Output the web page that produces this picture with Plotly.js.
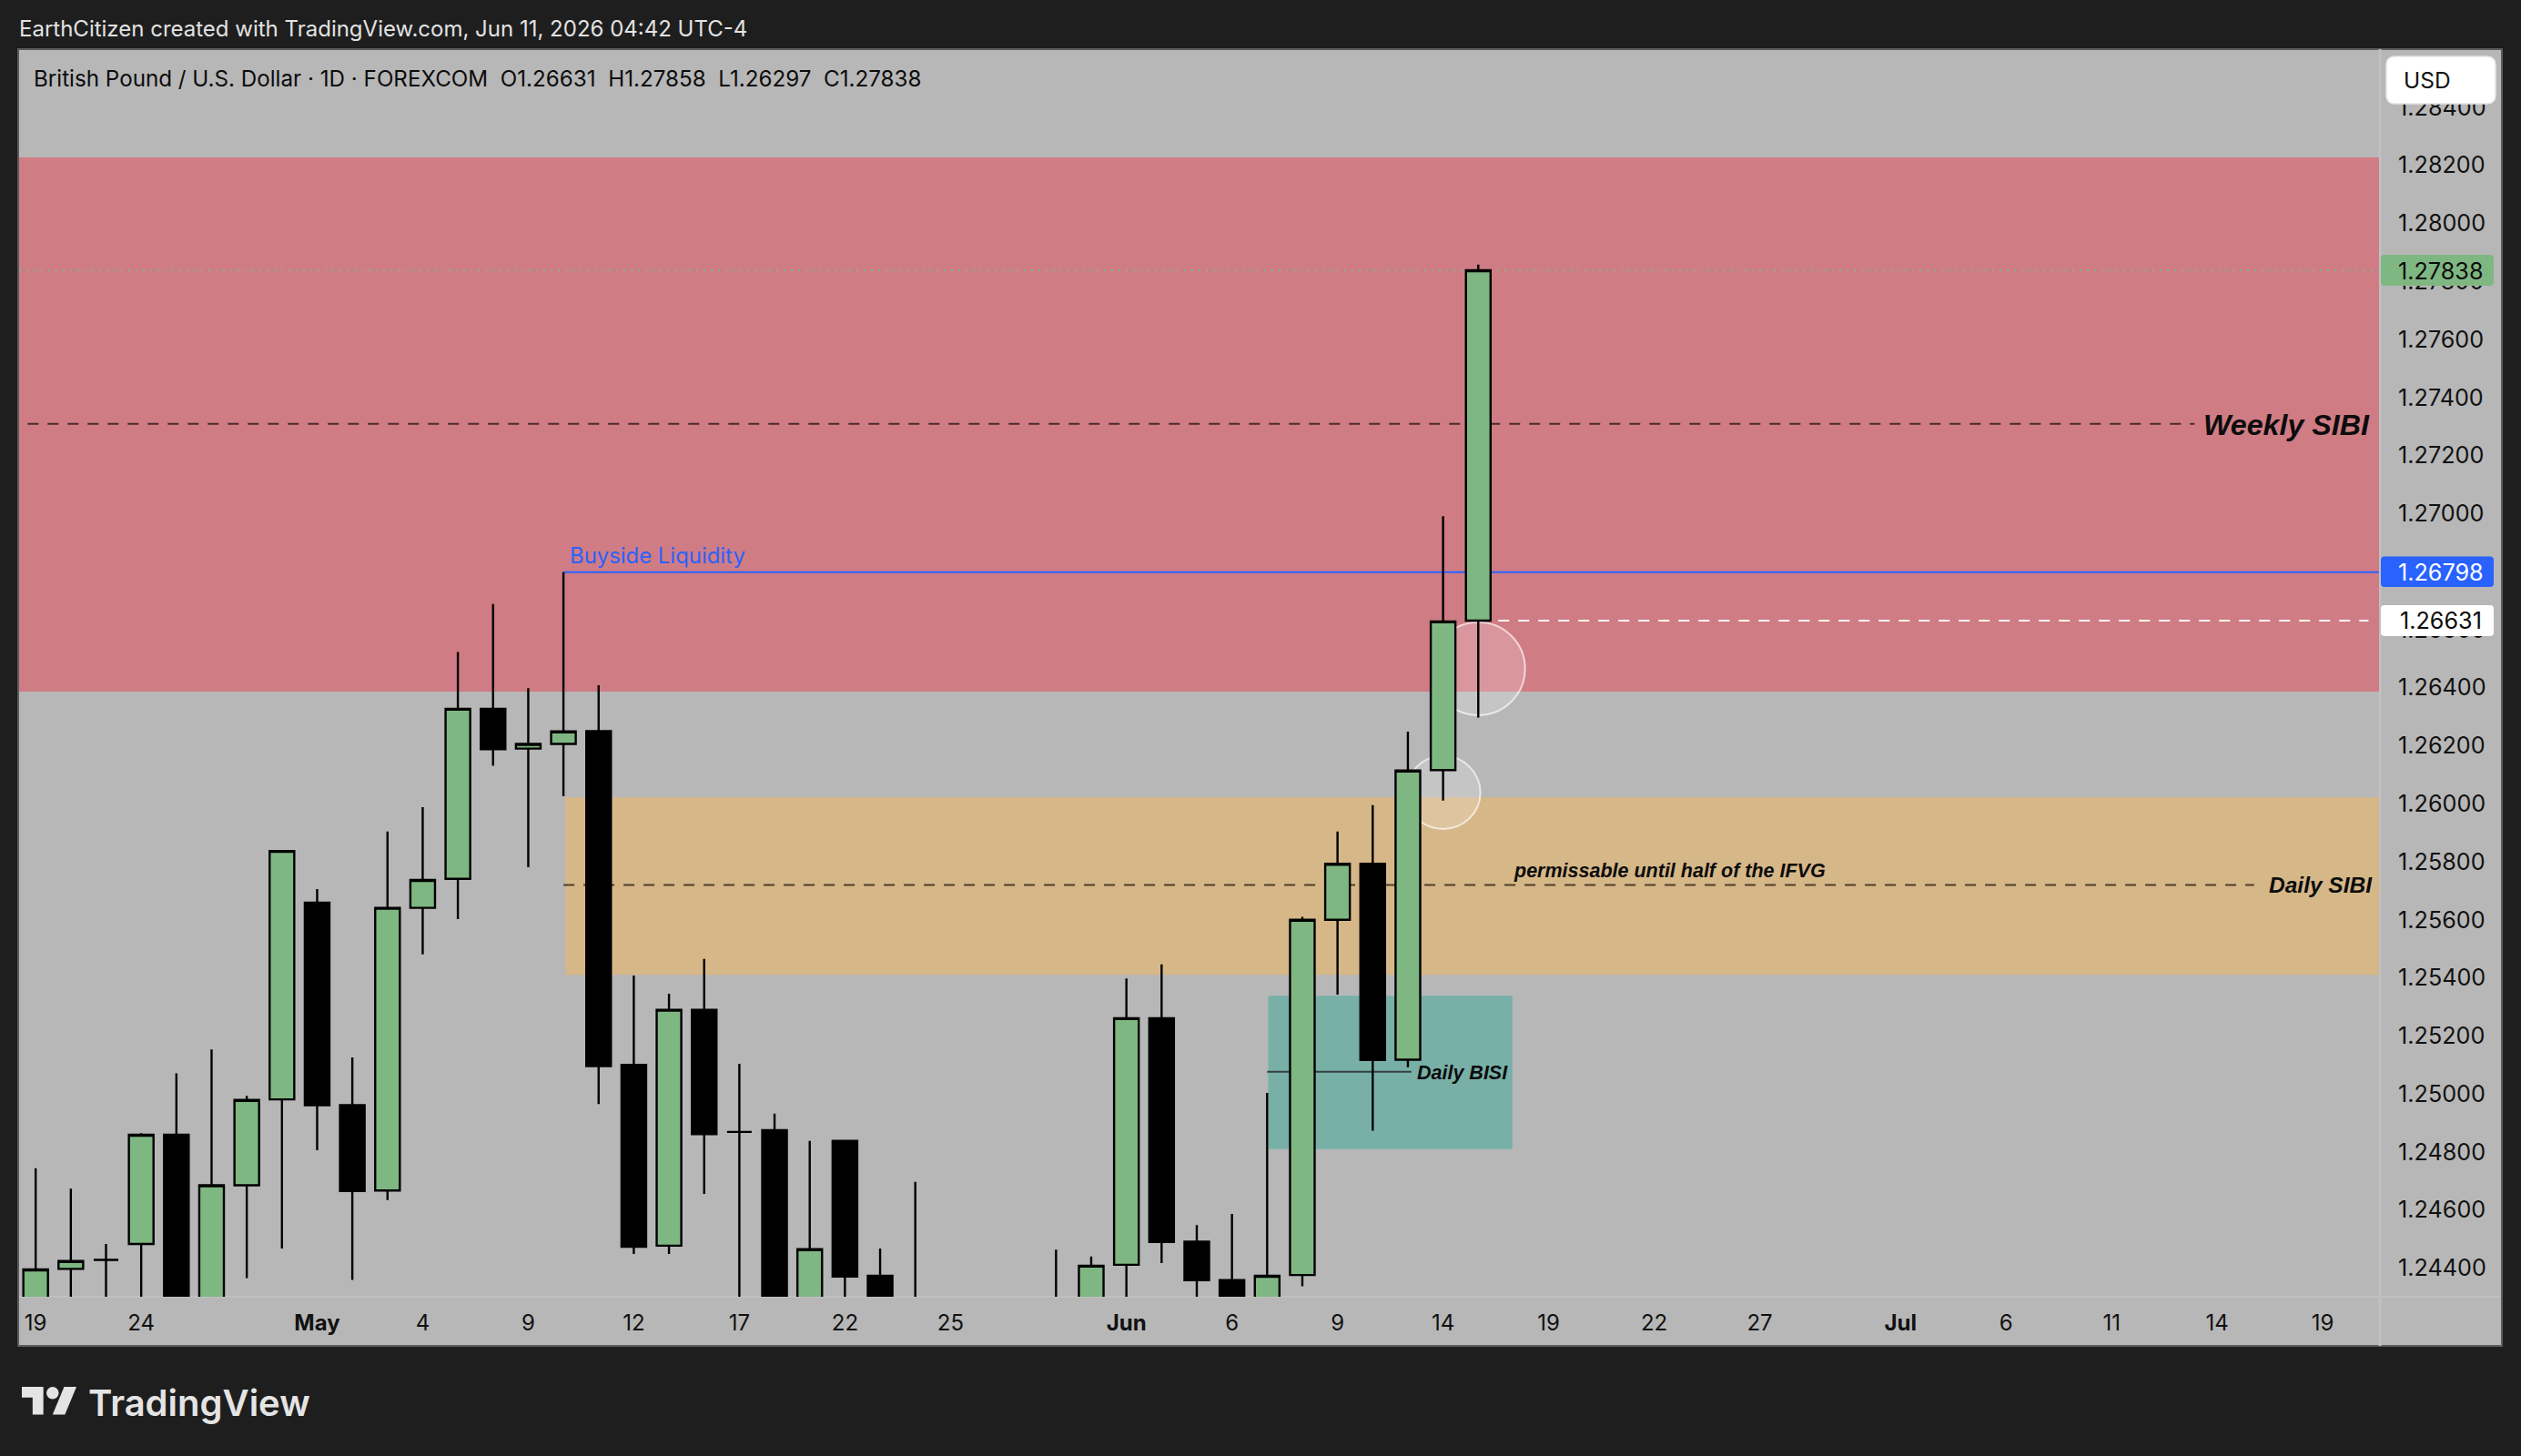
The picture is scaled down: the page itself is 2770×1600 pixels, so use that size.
<!DOCTYPE html>
<html>
<head>
<meta charset="utf-8">
<script src="https://cdn.plot.ly/plotly-3.0.1.min.js"></script>
<style>
  body { margin: 0; background: #1e1e1e; }
  #chart { width: 2770px; height: 1600px; }
</style>
</head>
<body>
<div id="chart"></div>
<script>
// bar index on the time scale (tradingview packs the days evenly)
const bars = [0,1,2,3,4,5,6,7,8,9,10,11,12,13,14,15,16,17,18,19,20,
  21,22,23,24,25,26,27,28,29,30,31,32,33,34,35,36,37,38,39,40,41];
// anything under 1.2430 is off the visible scale, so those are guesses
const opens = [1.2425,1.24397,1.24428,1.24483,1.24859,1.2422,1.24685,1.24981,1.25659,1.24961,1.24667,
  1.25641,1.25741,1.26327,1.2619,1.26206,1.2625,1.251,1.24477,1.2529,1.24869,
  1.24875,1.2422,1.24838,1.24373,1.2425,1.2418,1.2412,1.2416,1.2424,1.2422,
  1.24411,1.25261,1.24491,1.24358,1.2421,1.24376,1.256,1.25793,1.25118,1.26116,1.26631];
const highs = [1.24744,1.24673,1.24483,1.24865,1.25071,1.25153,1.24993,1.2584,1.25706,1.25126,1.25904,
  1.25988,1.26523,1.26688,1.26398,1.26798,1.26408,1.25408,1.25345,1.25465,1.25104,
  1.24932,1.24838,1.24838,1.24467,1.24697,1.2426,1.2424,1.2427,1.24463,1.2444,
  1.25398,1.25446,1.24548,1.24586,1.25003,1.2561,1.25904,1.25995,1.26248,1.26991,1.27858];
const lows = [1.2415,1.2418,1.2419,1.2416,1.2412,1.2413,1.24365,1.24467,1.24806,1.24359,1.24634,
  1.25481,1.25602,1.26131,1.25781,1.26026,1.24965,1.24448,1.24448,1.24655,1.2416,
  1.2414,1.2412,1.2415,1.2413,1.2414,1.2409,1.2405,1.2411,1.2416,1.2414,
  1.2418,1.24417,1.2421,1.2416,1.2415,1.24337,1.25342,1.24873,1.25092,1.26011,1.26297];
const closes = [1.24395,1.24424,1.24428,1.24859,1.2422,1.24685,1.24979,1.25837,1.24961,1.24665,1.25641,
  1.25737,1.26327,1.26188,1.26206,1.26249,1.25096,1.24473,1.2529,1.24861,1.24869,
  1.2421,1.24465,1.24371,1.2418,1.2418,1.2412,1.2416,1.2424,1.2422,1.24408,
  1.25261,1.2449,1.24358,1.2422,1.24373,1.256,1.25793,1.25117,1.26114,1.26628,1.27838];

const timeTicks = [0,3,8,11,14,17,20,23,26,31,34,37,40,43,46,49,53,56,59,62,65];
const timeLabels = ['19','24','<b>May</b>','4','9','12','17','22','25','<b>Jun</b>','6','9','14',
  '19','22','27','<b>Jul</b>','6','11','14','19'];
const priceTicks = [1.244,1.246,1.248,1.25,1.252,1.254,1.256,1.258,1.26,1.262,1.264,1.266,
  1.268,1.27,1.272,1.274,1.276,1.278,1.28,1.282,1.284];

const W = 2770, H = 1600, L = 21, R = 156, T = 54, B = 175;
const UI = 'Inter, "Liberation Sans", sans-serif';
const NOTE = '"Liberation Sans", Arial, sans-serif';
const BG = '#b7b7b7', DARK = '#1e1e1e', GREEN = '#7fb782', BLUE = '#2962ff';

// pixel position on the page -> paper fraction
const px = v => (v - L) / (W - L - R);
const py = v => 1 - (v - T) / (H - T - B);

function roundRect(x0, y0, x1, y1, r, fill, line) {
  const p = (x, y) => px(x) + ',' + py(y);
  return {
    type: 'path', xref: 'paper', yref: 'paper', layer: 'above', fillcolor: fill,
    line: line || { width: 0 },
    path: 'M' + p(x0 + r, y0) + ' L' + p(x1 - r, y0) + ' Q' + p(x1, y0) + ' ' + p(x1, y0 + r) +
      ' L' + p(x1, y1 - r) + ' Q' + p(x1, y1) + ' ' + p(x1 - r, y1) +
      ' L' + p(x0 + r, y1) + ' Q' + p(x0, y1) + ' ' + p(x0, y1 - r) +
      ' L' + p(x0, y0 + r) + ' Q' + p(x0, y0) + ' ' + p(x0 + r, y0) + ' Z'
  };
}

function zone(x0, x1, y0, y1, fill) {
  return { type: 'rect', xref: 'x', yref: 'y', layer: 'below', x0, x1, y0, y1, fillcolor: fill, line: { width: 0 } };
}
function level(x0, x1, y, color, width, dash) {
  return { type: 'line', xref: 'x', yref: 'y', layer: 'below', x0, x1, y0: y, y1: y, line: { color, width, dash } };
}
function ring(xc, xr, y0, y1) {
  return {
    type: 'circle', xref: 'x', yref: 'y', layer: 'below', x0: xc - xr, x1: xc + xr, y0, y1,
    fillcolor: 'rgba(255,255,255,0.2)', line: { color: 'rgba(255,255,255,0.65)', width: 2 }
  };
}
function logoPoly(pts) {
  // logo drawn on a 36 x 18 grid, placed at 24,1524
  const d = pts.map((q, i) => (i ? 'L' : 'M') + px(24 + q[0] * 1.69) + ',' + py(1524 + q[1] * 1.69)).join(' ') + ' Z';
  return { type: 'path', xref: 'paper', yref: 'paper', layer: 'above', path: d, fillcolor: '#e4e4e4', line: { width: 0 } };
}
function pageText(x, y, text, size, color, anchor, extra) {
  return Object.assign({
    xref: 'paper', yref: 'paper', x: px(x), y: py(y), text, showarrow: false, xanchor: anchor || 'left', yanchor: 'middle',
    font: { family: UI, size, color }
  }, extra || {});
}
function chartText(x, y, text, size, color, anchor) {
  return {
    xref: 'x', yref: 'y', x, y, text, showarrow: false, xanchor: anchor || 'left', yanchor: 'middle',
    font: { family: NOTE, size, color, style: 'italic', weight: 'bold' }
  };
}

const shapes = [
  // frame and axis panels
  { type: 'rect', xref: 'paper', yref: 'paper', layer: 'below', x0: px(20), x1: px(2749), y0: py(1479), y1: py(54),
    fillcolor: BG, line: { color: '#5c5c5c', width: 2 } },
  { type: 'line', xref: 'paper', yref: 'paper', layer: 'below', x0: px(2615), x1: px(2615), y0: py(1479), y1: py(54),
    line: { color: '#c0c0c0', width: 3 } },
  { type: 'line', xref: 'paper', yref: 'paper', layer: 'below', x0: px(21), x1: px(2748), y0: py(1425), y1: py(1425),
    line: { color: '#c0c0c0', width: 2 } },
  // zones
  zone(-0.47, 66.6, 1.26386, 1.28227, '#d07c84'),
  zone(15.05, 66.6, 1.2541, 1.26022, '#d6b788'),
  zone(35.03, 41.97, 1.2481, 1.25338, '#78b0a8'),
  // levels
  level(-0.23, 61.36, 1.27309, '#4a2a2e', 2, '12px,10px'),
  level(15, 63.05, 1.2572, '#4d3f28', 2, '12px,10px'),
  level(35, 39.1, 1.25076, '#33403e', 2, 'solid'),
  level(15, 66.6, 1.26798, BLUE, 2, 'solid'),
  level(41, 66.3, 1.26631, '#ffffff', 2, '12px,10px'),
  level(-0.47, 66.6, 1.27838, GREEN, 2, '2px,6px'),
  // wick rejection circles
  ring(41, 1.33, 1.26305, 1.26625),
  ring(40, 1.06, 1.25913, 1.26164),
  // price tags and currency button
  roundRect(2622, 62, 2742, 114, 10, '#ffffff', { color: '#e6e6e6', width: 1.5 }),
  roundRect(2616, 280, 2740, 314, 4, GREEN),
  roundRect(2616, 611.5, 2740, 645, 4, BLUE),
  roundRect(2616, 665, 2740, 699, 4, '#ffffff'),
  // logo
  logoPoly([[0, 0], [14, 0], [14, 18], [7, 18], [7, 7], [0, 7]]),
  logoPoly([[27.5, 0], [35.5, 0], [28, 18], [20, 18]]),
  { type: 'circle', xref: 'paper', yref: 'paper', layer: 'above', fillcolor: '#e4e4e4', line: { width: 0 },
    x0: px(24 + 16 * 1.69), x1: px(24 + 24 * 1.69), y0: py(1524 + 8 * 1.69), y1: py(1524) }
];

const annotations = [
  pageText(19, 32, 'EarthCitizen created with TradingView.com, Jun 11, 2026 04:42 UTC-4', 24, '#e2e2e2'),
  pageText(35, 86, 'British Pound / U.S. Dollar · 1D · FOREXCOM&nbsp;&nbsp;O1.26631&nbsp;&nbsp;H1.27858&nbsp;&nbsp;L1.26297&nbsp;&nbsp;C1.27838', 24.2, '#0c0c0c'),
  pageText(2639, 88, 'USD', 24.5, '#111111'),
  pageText(2681.5, 298, '1.27838', 25.2, '#0c0c0c', 'center'),
  pageText(2681.5, 629, '1.26798', 25.2, '#ffffff', 'center'),
  pageText(2681.5, 682, '1.26631', 25.2, '#0c0c0c', 'center'),
  pageText(95, 1541, 'TradingView', 40, '#e4e4e4', 'left', { font: { family: UI, size: 40, color: '#e4e4e4', weight: 600 } }),
  {
    xref: 'x', yref: 'y', x: 15.13, y: 1.26855, text: 'Buyside Liquidity', showarrow: false, xanchor: 'left', yanchor: 'middle',
    font: { family: UI, size: 23.9, color: BLUE }
  },
  chartText(61.56, 1.27306, 'Weekly SIBI', 32.2, '#0c0c0c'),
  chartText(63.42, 1.2572, 'Daily SIBI', 24.5, '#0c0c0c'),
  chartText(41.96, 1.25768, 'permissable until half of the IFVG', 21.5, '#0c0c0c'),
  chartText(39.22, 1.25072, 'Daily BISI', 21.5, '#0c0c0c')
];

const trace = {
  type: 'candlestick', x: bars, open: opens, high: highs, low: lows, close: closes,
  increasing: { line: { color: '#000000', width: 2.4 }, fillcolor: GREEN },
  decreasing: { line: { color: '#000000', width: 2.4 }, fillcolor: '#000000' },
  whiskerwidth: 0, hoverinfo: 'skip', showlegend: false
};

const layout = {
  width: W, height: H,
  margin: { l: L, r: R, t: T, b: B, pad: 0 },
  paper_bgcolor: DARK, plot_bgcolor: 'rgba(0,0,0,0)',
  showlegend: false,
  boxgap: 0.3, boxgroupgap: 0,
  xaxis: {
    range: [-0.47, 66.6], rangeslider: { visible: false }, showgrid: false, zeroline: false, showline: false,
    tickmode: 'array', tickvals: timeTicks, ticktext: timeLabels,
    ticks: 'outside', ticklen: 7, tickcolor: 'rgba(0,0,0,0)', tickangle: 0,
    tickfont: { family: UI, size: 24, color: '#111111' }, automargin: false
  },
  yaxis: {
    side: 'right', range: [1.24301, 1.286], showgrid: false, zeroline: false, showline: false,
    tickmode: 'array', tickvals: priceTicks, ticktext: priceTicks.map(v => v.toFixed(5)),
    ticks: 'outside', ticklen: 15, tickcolor: 'rgba(0,0,0,0)',
    tickfont: { family: UI, size: 25.2, color: '#111111' }, automargin: false
  },
  shapes, annotations
};

Plotly.newPlot('chart', [trace], layout, { displayModeBar: false, staticPlot: true });
</script>
</body>
</html>
